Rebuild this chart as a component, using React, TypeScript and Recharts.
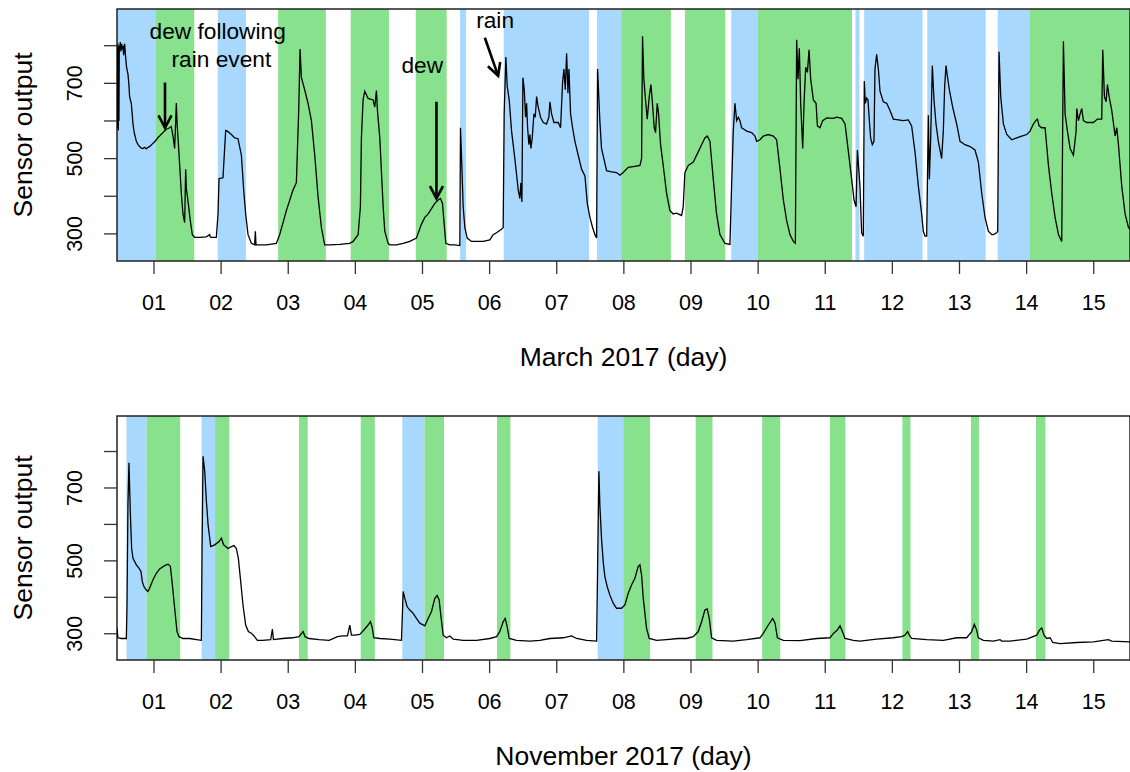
import {
  LineChart,
  Line,
  XAxis,
  YAxis,
  ReferenceArea,
  ReferenceLine,
  ReferenceDot,
} from "recharts";

const FONT = '"Liberation Sans", Arial, Helvetica, sans-serif';

const dayTicks = [1, 2, 3, 4, 5, 6, 7, 8, 9, 10, 11, 12, 13, 14, 15];
const valueTicks = [300, 400, 500, 600, 700, 800];
const labelledValues = [300, 500, 700];

const X_MIN = 0.449;
const X_MAX = 15.54;
const Y_MIN = 228;
const Y_MAX = 897.5;

// March 2017 sensor trace
const marchDays = [
  0.449, 0.453, 0.458, 0.463, 0.468, 0.473, 0.478, 0.483, 0.49, 0.498,
  0.508, 0.518, 0.528, 0.538, 0.548, 0.558, 0.563, 0.575, 0.59, 0.6,
  0.612, 0.625, 0.637, 0.65, 0.662, 0.675, 0.687, 0.7, 0.712, 0.725,
  0.737, 0.76, 0.786, 0.81, 0.836, 0.86, 0.886, 0.91, 0.935, 0.96,
  0.985, 1.01, 1.035, 1.06, 1.084, 1.11, 1.134, 1.16, 1.184, 1.21,
  1.233, 1.258, 1.283, 1.308, 1.333, 1.345, 1.358, 1.383, 1.407, 1.432,
  1.457, 1.472, 1.482, 1.492, 1.517, 1.541, 1.571, 1.606, 1.681, 1.78,
  1.83, 1.84, 1.854, 1.929, 1.954, 1.969, 2.028, 2.068, 2.093, 2.153,
  2.202, 2.252, 2.302, 2.336, 2.366, 2.401, 2.451, 2.5, 2.51, 2.52,
  2.575, 2.674, 2.823, 2.873, 2.972, 3.072, 3.121, 3.156, 3.176, 3.196,
  3.245, 3.295, 3.345, 3.395, 3.444, 3.494, 3.543, 3.618, 3.767, 3.916,
  3.966, 4.041, 4.075, 4.09, 4.115, 4.14, 4.19, 4.264, 4.289, 4.314,
  4.329, 4.364, 4.389, 4.414, 4.438, 4.488, 4.513, 4.612, 4.712, 4.811,
  4.91, 4.985, 5.035, 5.084, 5.134, 5.184, 5.233, 5.268, 5.298, 5.323,
  5.348, 5.407, 5.482, 5.556, 5.566, 5.586, 5.606, 5.631, 5.666, 5.73,
  5.805, 5.904, 6.003, 6.053, 6.103, 6.177, 6.202, 6.217, 6.242, 6.262,
  6.292, 6.327, 6.376, 6.426, 6.451, 6.466, 6.481, 6.496, 6.516, 6.536,
  6.551, 6.566, 6.585, 6.6, 6.615, 6.635, 6.66, 6.68, 6.7, 6.724,
  6.759, 6.799, 6.848, 6.883, 6.898, 6.923, 6.958, 7.022, 7.057, 7.087,
  7.107, 7.127, 7.147, 7.167, 7.182, 7.206, 7.236, 7.271, 7.32, 7.37,
  7.42, 7.455, 7.494, 7.534, 7.569, 7.594, 7.608, 7.642, 7.667, 7.702,
  7.742, 7.816, 7.891, 7.941, 7.99, 8.065, 8.139, 8.239, 8.264, 8.278,
  8.298, 8.323, 8.348, 8.378, 8.403, 8.422, 8.452, 8.472, 8.497, 8.517,
  8.547, 8.586, 8.636, 8.686, 8.735, 8.785, 8.86, 8.884, 8.909, 8.959,
  9.034, 9.108, 9.158, 9.207, 9.242, 9.282, 9.332, 9.381, 9.431, 9.506,
  9.58, 9.605, 9.63, 9.655, 9.68, 9.705, 9.729, 9.754, 9.789, 9.829,
  9.903, 9.953, 9.978, 10.028, 10.077, 10.152, 10.227, 10.276, 10.326, 10.376,
  10.425, 10.475, 10.525, 10.555, 10.574, 10.594, 10.614, 10.634, 10.664, 10.684,
  10.709, 10.734, 10.759, 10.783, 10.823, 10.863, 10.883, 10.922, 10.962, 11.022,
  11.121, 11.171, 11.245, 11.295, 11.345, 11.394, 11.429, 11.459, 11.479, 11.517,
  11.542, 11.567, 11.582, 11.597, 11.617, 11.637, 11.657, 11.676, 11.701, 11.726,
  11.741, 11.766, 11.791, 11.816, 11.865, 11.915, 11.965, 12.014, 12.089, 12.163,
  12.238, 12.287, 12.337, 12.387, 12.436, 12.461, 12.486, 12.511, 12.536, 12.551,
  12.571, 12.595, 12.62, 12.65, 12.685, 12.734, 12.759, 12.779, 12.799, 12.819,
  12.849, 12.898, 12.958, 13.008, 13.082, 13.157, 13.231, 13.281, 13.331, 13.38,
  13.43, 13.48, 13.505, 13.554, 13.569, 13.589, 13.614, 13.654, 13.704, 13.778,
  13.853, 13.927, 14.002, 14.051, 14.101, 14.136, 14.161, 14.186, 14.225, 14.275,
  14.325, 14.374, 14.424, 14.474, 14.523, 14.548, 14.573, 14.608, 14.648, 14.697,
  14.737, 14.747, 14.772, 14.797, 14.821, 14.846, 14.896, 14.995, 15.055, 15.119,
  15.134, 15.159, 15.184, 15.204, 15.229, 15.268, 15.318, 15.343, 15.368, 15.417,
  15.467, 15.517, 15.54,
];
const marchValues = [
  650, 795, 580, 805, 575, 780, 600, 800, 790, 810,
  785, 805, 790, 800, 775, 800, 805, 775, 745, 735,
  725, 700, 665, 655, 647, 620, 592, 575, 564, 555,
  546, 538, 532, 528, 527, 530, 526, 530, 532, 536,
  541, 545, 550, 556, 560, 565, 569, 574, 578, 580,
  582, 585, 560, 527, 648, 590, 555, 482, 408, 353,
  330, 472, 420, 408, 372, 335, 298, 291, 291, 292,
  298, 292, 291, 291, 353, 447, 449, 575, 573, 564,
  555, 553, 509, 417, 353, 298, 275, 271, 307, 271,
  271, 271, 275, 298, 362, 417, 436, 628, 791, 715,
  683, 647, 601, 509, 399, 317, 271, 271, 272, 275,
  280, 298, 372, 555, 656, 679, 660, 656, 637, 681,
  628, 555, 463, 372, 307, 275, 271, 271, 275, 280,
  289, 326, 344, 353, 367, 381, 390, 394, 381, 326,
  275, 271, 271, 269, 582, 482, 372, 317, 289, 280,
  280, 280, 284, 298, 303, 312, 317, 619, 770, 692,
  656, 573, 500, 417, 394, 436, 385, 715, 683, 610,
  647, 582, 537, 564, 527, 555, 619, 610, 665, 637,
  610, 596, 592, 610, 651, 619, 596, 596, 582, 702,
  738, 683, 780, 674, 738, 619, 582, 546, 509, 472,
  454, 381, 344, 317, 298, 289, 738, 601, 527, 500,
  468, 465, 463, 456, 463, 477, 479, 482, 500, 825,
  711, 656, 605, 665, 697, 656, 582, 569, 647, 619,
  537, 482, 408, 362, 353, 355, 349, 372, 463, 482,
  491, 518, 537, 555, 560, 546, 445, 353, 298, 275,
  272, 427, 573, 647, 601, 610, 601, 582, 578, 573,
  569, 560, 546, 550, 560, 564, 560, 550, 472, 390,
  335, 298, 280, 275, 816, 711, 793, 647, 527, 647,
  743, 729, 789, 711, 656, 647, 587, 582, 601, 608,
  607, 610, 607, 592, 518, 445, 390, 372, 523, 427,
  303, 294, 706, 647, 661, 656, 601, 555, 537, 546,
  738, 777, 738, 679, 651, 647, 628, 605, 603, 601,
  603, 587, 518, 427, 353, 307, 294, 294, 615, 445,
  555, 747, 656, 592, 546, 500, 573, 692, 747, 720,
  683, 637, 592, 546, 537, 532, 523, 491, 408, 344,
  307, 298, 298, 303, 307, 784, 665, 592, 564, 550,
  555, 560, 564, 573, 592, 601, 605, 587, 582, 582,
  482, 408, 344, 298, 280, 812, 619, 573, 527, 509,
  573, 633, 601, 619, 633, 601, 596, 596, 605, 605,
  789, 665, 651, 697, 665, 628, 560, 582, 537, 427,
  353, 317, 312,
];

// November 2017 sensor trace
const novDays = [
  0.449, 0.463, 0.513, 0.588, 0.598, 0.612, 0.627, 0.647, 0.667, 0.687,
  0.737, 0.776, 0.806, 0.826, 0.851, 0.886, 0.91, 0.935, 0.985, 1.035,
  1.084, 1.159, 1.209, 1.244, 1.274, 1.308, 1.343, 1.373, 1.432, 1.532,
  1.632, 1.706, 1.716, 1.731, 1.756, 1.781, 1.806, 1.845, 1.905, 1.969,
  2.004, 2.038, 2.103, 2.153, 2.192, 2.227, 2.257, 2.292, 2.326, 2.366,
  2.406, 2.455, 2.49, 2.54, 2.615, 2.739, 2.764, 2.779, 2.913, 3.062,
  3.161, 3.221, 3.251, 3.31, 3.459, 3.609, 3.733, 3.808, 3.882, 3.917,
  3.941, 3.991, 4.065, 4.105, 4.14, 4.19, 4.224, 4.249, 4.274, 4.364,
  4.513, 4.687, 4.712, 4.737, 4.772, 4.811, 4.861, 4.91, 4.96, 5.035,
  5.084, 5.134, 5.184, 5.218, 5.248, 5.273, 5.308, 5.358, 5.407, 5.457,
  5.606, 5.805, 6.003, 6.103, 6.152, 6.202, 6.232, 6.262, 6.292, 6.401,
  6.6, 6.749, 6.898, 7.097, 7.221, 7.296, 7.445, 7.594, 7.608, 7.628,
  7.642, 7.667, 7.692, 7.717, 7.752, 7.792, 7.841, 7.891, 7.965, 8.015,
  8.065, 8.114, 8.164, 8.214, 8.239, 8.264, 8.289, 8.338, 8.378, 8.487,
  8.636, 8.81, 8.934, 9.034, 9.108, 9.158, 9.207, 9.242, 9.272, 9.307,
  9.381, 9.63, 9.829, 10.028, 10.077, 10.152, 10.217, 10.252, 10.287, 10.376,
  10.624, 10.873, 11.071, 11.121, 11.18, 11.22, 11.255, 11.295, 11.419, 11.517,
  11.766, 12.014, 12.139, 12.188, 12.228, 12.253, 12.287, 12.511, 12.759, 12.958,
  13.107, 13.182, 13.221, 13.256, 13.281, 13.356, 13.505, 13.604, 13.629, 13.753,
  14.002, 14.151, 14.191, 14.225, 14.26, 14.3, 14.35, 14.389, 14.499, 14.747,
  14.995, 15.218, 15.268, 15.54,
];
const novValues = [
  315, 289, 287, 287, 379, 654, 769, 635, 534, 507,
  489, 480, 471, 443, 429, 420, 416, 425, 448, 466,
  478, 487, 491, 485, 434, 370, 306, 292, 287, 287,
  284, 282, 534, 787, 746, 663, 599, 539, 544, 553,
  562, 544, 534, 539, 542, 534, 507, 443, 379, 324,
  306, 301, 294, 282, 282, 284, 313, 284, 287, 289,
  292, 306, 292, 287, 284, 282, 292, 294, 294, 324,
  296, 296, 298, 306, 313, 324, 333, 319, 289, 287,
  285, 282, 416, 397, 374, 365, 356, 342, 329, 322,
  342, 361, 397, 405, 393, 351, 296, 289, 294, 285,
  282, 282, 287, 292, 306, 333, 342, 319, 287, 282,
  280, 282, 287, 289, 294, 287, 282, 280, 471, 746,
  654, 562, 498, 457, 429, 406, 384, 370, 370, 379,
  411, 434, 452, 485, 489, 461, 397, 315, 287, 282,
  284, 287, 287, 292, 306, 333, 365, 368, 342, 289,
  282, 280, 284, 289, 301, 324, 342, 329, 289, 282,
  281, 287, 289, 301, 310, 322, 306, 287, 282, 280,
  285, 289, 292, 296, 306, 296, 287, 284, 282, 289,
  289, 306, 326, 310, 289, 282, 280, 284, 280, 280,
  285, 296, 310, 316, 296, 287, 289, 276, 273, 276,
  278, 284, 280, 278,
];

// shaded periods (start day, end day)
const marchBlue = [
  [0.449, 1.02], [1.95, 2.37], [5.56, 5.65], [6.21, 7.48], [7.6, 7.96],
  [9.6, 9.99], [11.45, 11.51], [11.58, 12.45], [12.52, 13.39], [13.57, 14.04],
];
const marchGreen = [
  [1.02, 1.6], [2.85, 3.56], [3.93, 4.5], [4.9, 5.36], [7.96, 8.7],
  [8.91, 9.51], [9.99, 11.4], [14.04, 15.54],
];
const novBlue = [[0.59, 0.89], [1.71, 1.91], [4.7, 5.03], [7.61, 7.99]];
const novGreen = [
  [0.89, 1.39], [1.91, 2.12], [3.16, 3.29], [4.08, 4.29], [5.03, 5.32],
  [6.11, 6.31], [7.99, 8.39], [9.07, 9.32], [10.06, 10.33], [11.07, 11.3],
  [12.15, 12.27], [13.17, 13.29], [14.14, 14.28],
];

const marchNotes = [
  { text: "dew following", day: 1.949, value: 839 },
  { text: "rain event", day: 2.004, value: 765 },
  { text: "dew", day: 4.997, value: 748 },
  { text: "rain", day: 6.082, value: 869 },
];
const marchArrows = [
  { from: [1.164, 702], to: [1.164, 582] },
  { from: [5.208, 651], to: [5.208, 394] },
  { from: [5.929, 821], to: [6.127, 720] },
];

const BLUE = "#a8d8fe";
const GREEN = "#88e18c";

function toRows(days: number[], values: number[]) {
  return days.map((d, i) => ({ day: d, value: values[i] }));
}

function YTick(props: any) {
  const { x, y, payload } = props;
  if (!labelledValues.includes(payload.value)) return <g />;
  return (
    <text
      x={x}
      y={y}
      transform={`rotate(-90 ${x} ${y})`}
      textAnchor="middle"
      dominantBaseline="central"
      fontSize={21.5}
      fill="#000"
    >
      {payload.value}
    </text>
  );
}

function yTitle(props: any) {
  const vb = props.viewBox || { x: 0, y: 9, width: 117, height: 243 };
  const cx = vb.x + 23;
  const cy = vb.y + vb.height / 2;
  return (
    <text
      x={cx}
      y={cy}
      transform={`rotate(-90 ${cx} ${cy})`}
      textAnchor="middle"
      dominantBaseline="central"
      fontSize={26.5}
      fill="#000"
    >
      Sensor output
    </text>
  );
}

function xTitle(text: string) {
  return (props: any) => {
    const vb = props.viewBox || { x: 117, y: 252, width: 1013, height: 150 };
    return (
      <text
        x={vb.x + vb.width / 2}
        y={vb.y + 105}
        textAnchor="middle"
        fontSize={26.5}
        fill="#000"
      >
        {text}
      </text>
    );
  };
}

function arrowShape(p: any) {
  const { x1, y1, x2, y2 } = p;
  const ang = Math.atan2(y2 - y1, x2 - x1);
  const len = 14;
  const spread = Math.PI / 6.5;
  const ax = x2 - len * Math.cos(ang - spread);
  const ay = y2 - len * Math.sin(ang - spread);
  const bx = x2 - len * Math.cos(ang + spread);
  const by = y2 - len * Math.sin(ang + spread);
  return (
    <g>
      <line x1={x1} y1={y1} x2={x2} y2={y2} stroke="#000" strokeWidth={2.6} />
      <polyline
        points={`${ax},${ay} ${x2},${y2} ${bx},${by}`}
        fill="none"
        stroke="#000"
        strokeWidth={2.6}
      />
    </g>
  );
}

function noteShape(text: string) {
  return (p: any) => (
    <text
      x={p.cx}
      y={p.cy}
      dy="0.355em"
      textAnchor="middle"
      fontSize={22.7}
      fill="#000"
    >
      {text}
    </text>
  );
}

function Panel({
  days,
  values,
  blue,
  green,
  title,
  height,
  top,
  axisHeight,
  notes = [],
  arrows = [],
}: any) {
  return (
    <LineChart
      width={1130}
      height={height}
      data={toRows(days, values)}
      margin={{ top: top, right: 0, left: 0, bottom: 0 }}
    >
      {blue.map((b: number[], i: number) => (
        <ReferenceArea
          key={`b${i}`}
          x1={b[0]}
          x2={b[1]}
          y1={Y_MIN}
          y2={Y_MAX}
          fill={BLUE}
          fillOpacity={1}
          stroke="none"
        />
      ))}
      {green.map((g: number[], i: number) => (
        <ReferenceArea
          key={`g${i}`}
          x1={g[0]}
          x2={g[1]}
          y1={Y_MIN}
          y2={Y_MAX}
          fill={GREEN}
          fillOpacity={1}
          stroke="none"
        />
      ))}
      <XAxis
        dataKey="day"
        type="number"
        domain={[X_MIN, X_MAX]}
        allowDataOverflow
        ticks={dayTicks}
        interval={0}
        tickFormatter={(d: number) => String(d).padStart(2, "0")}
        axisLine={false}
        tickSize={13}
        tickMargin={21}
        tickLine={{ stroke: "#333", strokeWidth: 1.3 }}
        tick={{ fontSize: 21.5, fill: "#000" }}
        height={axisHeight}
        label={xTitle(title)}
      />
      <YAxis
        type="number"
        domain={[Y_MIN, Y_MAX]}
        allowDataOverflow
        ticks={valueTicks}
        interval={0}
        axisLine={false}
        tickSize={13}
        tickMargin={29}
        tickLine={{ stroke: "#333", strokeWidth: 1.3 }}
        tick={<YTick />}
        width={117}
        label={yTitle}
      />
      <Line
        type="linear"
        dataKey="value"
        stroke="#000"
        strokeWidth={1.3}
        dot={false}
        activeDot={false}
        isAnimationActive={false}
      />
      <ReferenceArea
        x1={X_MIN}
        x2={X_MAX}
        y1={Y_MIN}
        y2={Y_MAX}
        fill="none"
        stroke="#222"
        strokeWidth={1.5}
        ifOverflow="visible"
      />
      {arrows.map((a: any, i: number) => (
        <ReferenceLine
          key={`a${i}`}
          segment={[
            { x: a.from[0], y: a.from[1] },
            { x: a.to[0], y: a.to[1] },
          ]}
          shape={arrowShape}
        />
      ))}
      {notes.map((n: any, i: number) => (
        <ReferenceDot
          key={`n${i}`}
          x={n.day}
          y={n.value}
          r={0}
          shape={noteShape(n.text)}
        />
      ))}
    </LineChart>
  );
}

export default function App() {
  return (
    <div
      style={{
        position: "absolute",
        left: 0,
        top: 0,
        fontFamily: FONT,
        background: "#fff",
      }}
    >
      <Panel
        days={marchDays}
        values={marchValues}
        blue={marchBlue}
        green={marchGreen}
        title="March 2017 (day)"
        height={408}
        top={9}
        axisHeight={147}
        notes={marchNotes}
        arrows={marchArrows}
      />
      <Panel
        days={novDays}
        values={novValues}
        blue={novBlue}
        green={novGreen}
        title="November 2017 (day)"
        height={364}
        top={8}
        axisHeight={112}
      />
    </div>
  );
}
